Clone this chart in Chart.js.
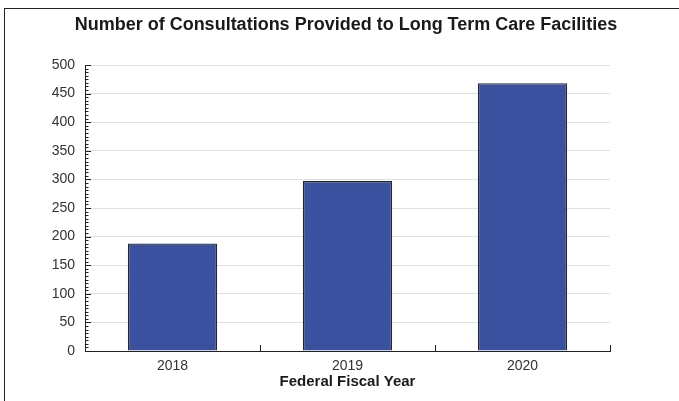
<!DOCTYPE html>
<html>
<head>
<meta charset="utf-8">
<script src="https://cdn.jsdelivr.net/npm/chart.js@4/dist/chart.umd.min.js"></script>
<style>
  html, body { margin: 0; padding: 0; background: #fff; }
  #wrap { position: relative; width: 679px; height: 401px; overflow: hidden; }
  #frame { position: absolute; left: 4px; top: 8px; width: 700px; height: 420px;
           border-top: 1px solid #222; border-left: 1px solid #222; box-sizing: border-box; }
  canvas { position: absolute; left: 0; top: 0; }
</style>
</head>
<body>
<div id="wrap">
  <div id="frame"></div>
  <canvas id="c" width="679" height="401"></canvas>
</div>
<script>
const categories = ["2018", "2019", "2020"];
const consultations = [188, 297, 468];
const yMin = 0, yMax = 500, yStep = 50, yMinorStep = 6.25;
const titleText = "Number of Consultations Provided to Long Term Care Facilities";
const xTitleText = "Federal Fiscal Year";

const FONT = "'Liberation Sans', Arial, sans-serif";

const tickPlugin = {
  id: 'customTicks',
  afterDatasetsDraw(chart) {
    const ctx = chart.ctx;
    const y = chart.scales.y, x = chart.scales.x;
    const left = chart.chartArea.left, bottom = chart.chartArea.bottom;
    ctx.save();
    ctx.strokeStyle = '#222';
    ctx.lineWidth = 1;
    for (let v = yMin; v <= yMax + 1e-9; v += yMinorStep) {
      const py = Math.round(y.getPixelForValue(v)) + 0.5;
      const isMajor = Math.abs(v / yStep - Math.round(v / yStep)) < 1e-6;
      ctx.beginPath();
      ctx.moveTo(left, py);
      ctx.lineTo(left + (isMajor ? 6 : 3.5), py);
      ctx.stroke();
    }
    for (let i = 0; i <= categories.length; i++) {
      const px = Math.round(x.getPixelForValue(i - 0.5)) + 0.5;
      ctx.beginPath();
      ctx.moveTo(px, bottom);
      ctx.lineTo(px, bottom - 6);
      ctx.stroke();
    }
    ctx.restore();
  },
  afterDraw(chart) {
    const ctx = chart.ctx;
    ctx.save();
    ctx.fillStyle = '#1a1a1a';
    ctx.font = "bold 18px " + FONT;
    ctx.textAlign = 'center';
    ctx.textBaseline = 'middle';
    ctx.fillText(titleText, 346, 25);
    ctx.restore();
  }
};

new Chart(document.getElementById('c'), {
  type: 'bar',
  data: {
    labels: categories,
    datasets: [{
      data: consultations,
      backgroundColor: '#3a51a0',
      borderColor: '#262626',
      borderWidth: 1.3,
      barPercentage: 0.51,
      categoryPercentage: 1.0
    }]
  },
  options: {
    responsive: false,
    animation: false,
    layout: { padding: { left: 45, right: 69, top: 65, bottom: 0 } },
    plugins: {
      legend: { display: false },
      tooltip: { enabled: false },
      title: { display: false }
    },
    scales: {
      x: {
        offset: true,
        grid: { display: false, drawTicks: false },
        border: { display: true, color: '#222', width: 1 },
        ticks: { color: '#333', font: { family: FONT, size: 14 }, padding: 7 },
        title: {
          display: true,
          text: xTitleText,
          color: '#1a1a1a',
          font: { family: FONT, size: 15, weight: 'bold' },
          padding: { top: 0, bottom: 10 }
        },
        afterFit(scale) { scale.height = 50; }
      },
      y: {
        min: yMin,
        max: yMax,
        ticks: { stepSize: yStep, color: '#333', font: { family: FONT, size: 14 }, padding: 10 },
        grid: { color: '#e0e0e0', drawTicks: false, lineWidth: 1 },
        border: { display: true, color: '#222', width: 1 },
        afterFit(scale) { scale.width = 40; }
      }
    }
  },
  plugins: [tickPlugin]
});
</script>
</body>
</html>
